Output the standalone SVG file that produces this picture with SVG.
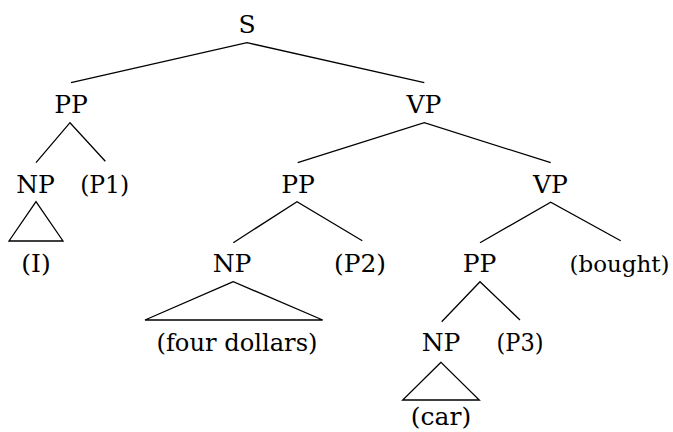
<svg xmlns="http://www.w3.org/2000/svg" width="673" height="432" viewBox="0 0 673 432">
  <style>
    .lbl { font-family: 'DejaVu Serif', serif; font-size: 25px; fill: #000; text-anchor: middle; }
    .edge { stroke: #000; stroke-width: 1.3; fill: none; }
  </style>
  <rect width="673" height="432" fill="#fff"/>

  <!-- branches -->
  <g id="connectors">
    <polyline class="edge" points="71,82.7 247,42.7 424.3,82.7"/>
    <polyline class="edge" points="36,162.7 70,122.7 105.3,161.3"/>
    <polyline class="edge" points="297.7,162.7 424.3,122.7 550.7,162.7"/>
    <polyline class="edge" points="233.3,242.7 297,201.7 362.3,240.7"/>
    <polyline class="edge" points="480,242.7 550.7,202.3 620.7,240.7"/>
    <polyline class="edge" points="441.7,321.7 480,281.7 520,320"/>
    <!-- roof triangles over unanalysed phrases -->
    <polygon class="edge" points="36,201.7 9,241 63,241"/>
    <polygon class="edge" points="233.3,281.7 145,320 322.7,320"/>
    <polygon class="edge" points="441,362.3 402.7,400 479.3,400"/>
  </g>

  <g class="lbl">
    <g id="S"><text x="247" y="33">S</text></g>
    <g id="PP1"><text x="71" y="113">PP</text></g>
    <g id="VP1"><text x="424" y="113">VP</text></g>
    <g id="NP1"><text x="35.5" y="193">NP</text></g>
    <g id="P1"><text x="104.7" y="193" textLength="49" lengthAdjust="spacingAndGlyphs">(P1)</text></g>
    <g id="I"><text x="36" y="272">(I)</text></g>
    <g id="PP2"><text x="298" y="193">PP</text></g>
    <g id="VP2"><text x="550.5" y="193">VP</text></g>
    <g id="NP2"><text x="232" y="272">NP</text></g>
    <g id="P2"><text x="360" y="272" textLength="52" lengthAdjust="spacingAndGlyphs">(P2)</text></g>
    <g id="four-dollars"><text x="237" y="351" textLength="161" lengthAdjust="spacingAndGlyphs">(four dollars)</text></g>
    <g id="PP3"><text x="479.5" y="272">PP</text></g>
    <g id="bought"><text x="619.5" y="272" font-size="23">(bought)</text></g>
    <g id="NP3"><text x="441" y="351">NP</text></g>
    <g id="P3"><text x="520" y="351" textLength="47" lengthAdjust="spacingAndGlyphs">(P3)</text></g>
    <g id="car"><text x="441" y="425">(car)</text></g>
  </g>
</svg>
